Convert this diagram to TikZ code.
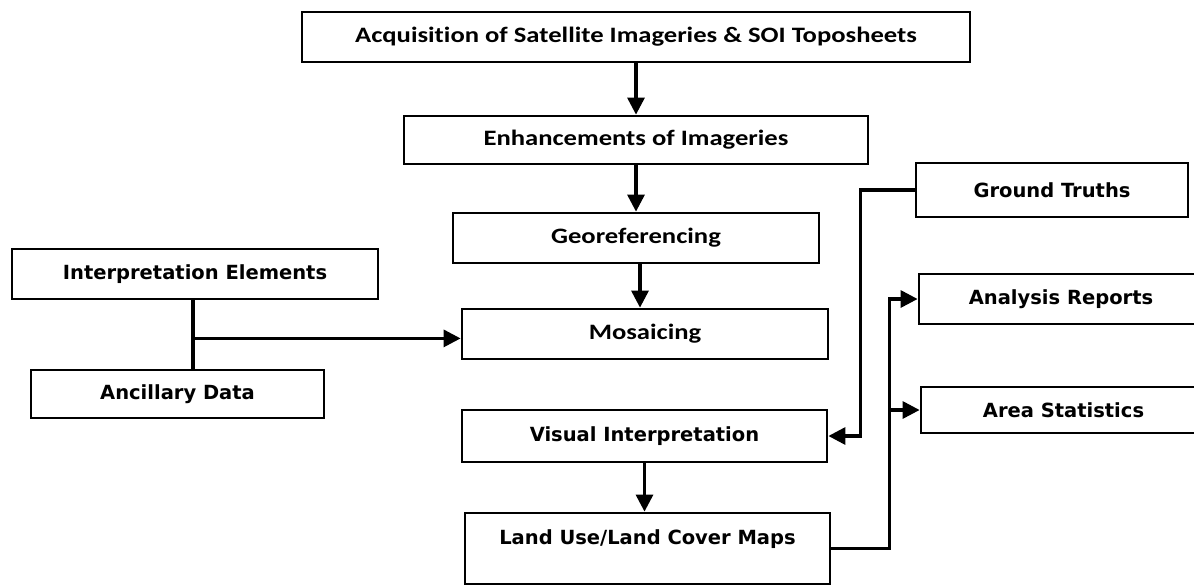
\documentclass[tikz,border=0pt]{standalone}
\usepackage{fontspec}
\usetikzlibrary{arrows.meta,calc}
\newfontfamily\calfont{Carlito}[FakeStretch=1.21,Ligatures=NoCommon]
\newfontfamily\tahfont{DejaVu Sans}
\begin{document}
\begin{tikzpicture}[x=1pt,y=-1pt,
  boxc/.style={draw=black,line width=2.8pt,inner sep=0pt,fill=white,
    font=\calfont\bfseries\fontsize{22}{26}\selectfont},
  boxt/.style={draw=black,line width=2.8pt,inner sep=0pt,fill=white,
    font=\tahfont\bfseries\fontsize{19.5}{23}\selectfont},
  conn/.style={line width=3.2pt},
  arr/.style={line width=3.2pt,-{Triangle[length=17pt,width=17pt]}}]
\useasboundingbox (0,0) rectangle (1194,587);
\clip (0,0) rectangle (1194,587);
% nodes
\node[boxc,minimum width=668pt,minimum height=50pt] (acq) at (636,37) {Acquisition of Satellite Imageries \& SOI Toposheets};
\node[boxc,minimum width=464pt,minimum height=48pt] (enh) at (636,140) {Enhancements of Imageries};
\node[boxc,minimum width=366pt,minimum height=50pt] (geo) at (636,238) {Georeferencing};
\node[boxc,minimum width=366pt,minimum height=50pt] (mos) at (645,334) {Mosaicing};
\node[boxt,minimum width=366pt,minimum height=50pt] (ie) at (195,274) {Interpretation Elements};
\node[boxt,minimum width=293pt,minimum height=48pt] (ad) at (177.5,394) {Ancillary Data};
\node[boxt,minimum width=272pt,minimum height=54pt] (gt) at (1052,190) {Ground Truths};
\node[boxt,minimum width=284pt,minimum height=50pt] (ar) at (1061,299) {Analysis Reports};
\node[boxt,minimum width=285pt,minimum height=46pt] (as) at (1063.5,410) {Area Statistics};
\node[boxt,minimum width=365pt,minimum height=52pt] (vi) at (644.5,436) {Visual Interpretation};
\node[boxt,minimum width=365pt,text height=31pt,text depth=40pt] (lulc) at (647.5,548.5) {Land Use/Land Cover Maps};
% junction coordinates
\coordinate (j1) at ($(ie.south)+(-2,38)$);
\coordinate (j2) at ($(gt.west)+(-54,0)$);
\coordinate (j3) at ($(lulc.east)+(58,0)$);
% connectors
\draw[arr] (acq.south) -- (enh.north);
\draw[arr] (enh.south) -- (geo.north);
\draw[arr] ([xshift=4pt]geo.south) -- ([xshift=4pt]geo.south |- mos.north);
\draw[conn] ([xshift=-2pt]ie.south) -- ([xshift=-2pt]ie.south |- ad.north);
\draw[arr] (j1) -- (j1 -| mos.west);
\draw[arr] (gt.west) -- (j2) |- (vi.east);
\draw[arr] (vi.south) -- (vi.south |- lulc.north);
\draw[arr] (lulc.east) -- (j3) |- (ar.west);
\draw[arr] (j3 |- as.west) -- (as.west);
\end{tikzpicture}
\end{document}
